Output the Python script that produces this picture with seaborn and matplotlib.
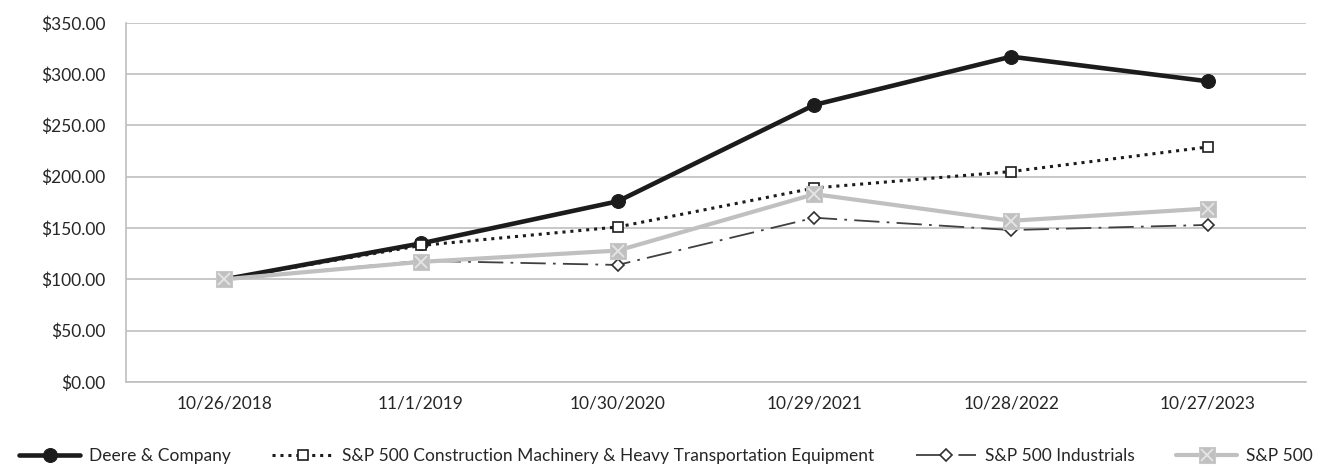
import matplotlib
matplotlib.use('Agg')
import matplotlib.pyplot as plt
import matplotlib.ticker as mticker
from matplotlib.legend_handler import HandlerTuple
import pandas as pd
import seaborn as sns

# Data
dates = ['10/26/2018', '11/1/2019', '10/30/2020', '10/29/2021', '10/28/2022', '10/27/2023']
deere = [100, 135, 176, 270, 317, 293]
construction = [100, 133, 151, 189, 205, 229]
industrials = [100, 118, 114, 160, 148, 153]
sp500 = [100, 117, 128, 183, 157, 169]

sns.set_style('white')
plt.rcParams['font.family'] = ['Lato', 'DejaVu Sans']

df = pd.DataFrame({
    'pos': range(len(dates)),
    'Deere & Company': deere,
    'S&P 500 Construction Machinery & Heavy Transportation Equipment': construction,
    'S&P 500 Industrials': industrials,
    'S&P 500': sp500,
})

fig = plt.figure(figsize=(13.32, 4.75), dpi=100)
ax = fig.add_axes([0.0946, 0.196, 0.886, 0.756])

grid_c = '#bfbfbf'
ax.set_axisbelow(True)
ax.yaxis.grid(True, color=grid_c, lw=1.2)

# Deere
sns.lineplot(data=df, x='pos', y='Deere & Company', ax=ax, color='#1c1c1c', lw=3.3,
             marker='o', markersize=10, markeredgecolor='#1c1c1c', label='Deere & Company')
# Construction machinery
sns.lineplot(data=df, x='pos', y='S&P 500 Construction Machinery & Heavy Transportation Equipment',
             ax=ax, color='#1c1c1c', lw=2.2, linestyle=(0, (1, 1.6)), marker='s', markersize=7,
             markerfacecolor='white', markeredgecolor='#1c1c1c', markeredgewidth=1.2,
             label='S&P 500 Construction Machinery & Heavy Transportation Equipment')
# Industrials
sns.lineplot(data=df, x='pos', y='S&P 500 Industrials', ax=ax, color='#404040', lw=1.3,
             linestyle=(0, (14, 4, 1.5, 4)), marker='D', markersize=6,
             markerfacecolor='white', markeredgecolor='#303030', markeredgewidth=1.2,
             label='S&P 500 Industrials')
# S&P 500
sns.lineplot(data=df, x='pos', y='S&P 500', ax=ax, color='#c0c0c0', lw=3,
             marker='s', markersize=11, markeredgecolor='#c8c8c8', label='S&P 500')
xmark, = ax.plot(df['pos'], df['S&P 500'], linestyle='none', marker='x', markersize=9,
                 markeredgecolor='#e4e4e4', markeredgewidth=1.4, zorder=5)

ax.set_xlim(-0.5, len(dates) - 0.5)
ax.set_ylim(0, 350)
ax.set_xticks(range(len(dates)))
ax.set_xticklabels(dates)
ax.set_xticks([i - 0.5 for i in range(len(dates) + 1)], minor=True)
ax.yaxis.set_major_locator(mticker.MultipleLocator(50))
ax.yaxis.set_major_formatter(mticker.FuncFormatter(lambda v, p: f'${v:,.2f}'))
ax.tick_params(axis='x', which='major', length=0, pad=10, labelsize=12.5, labelcolor='#262626')
ax.tick_params(axis='x', which='minor', length=6, width=1.2, color=grid_c, direction='out')
ax.tick_params(axis='y', length=7, width=1.2, color=grid_c, direction='out', pad=8,
               labelsize=12.5, labelcolor='#262626')
ax.set_xlabel('')
ax.set_ylabel('')

for s in ['top', 'right']:
    ax.spines[s].set_visible(False)
for s in ['left', 'bottom']:
    ax.spines[s].set_color(grid_c)
    ax.spines[s].set_linewidth(1.2)

ax.get_legend().remove()
handles, labels = ax.get_legend_handles_labels()
handles[3] = (handles[3], xmark)
fig.legend(handles, labels, loc='lower center', bbox_to_anchor=(0.5, -0.01), ncol=4,
           frameon=False, fontsize=12.5, handlelength=3.5, columnspacing=2.4,
           handletextpad=0.5, handler_map={tuple: HandlerTuple(ndivide=1)},
           labelcolor='#262626')

fig.savefig('out.png', dpi=100)
